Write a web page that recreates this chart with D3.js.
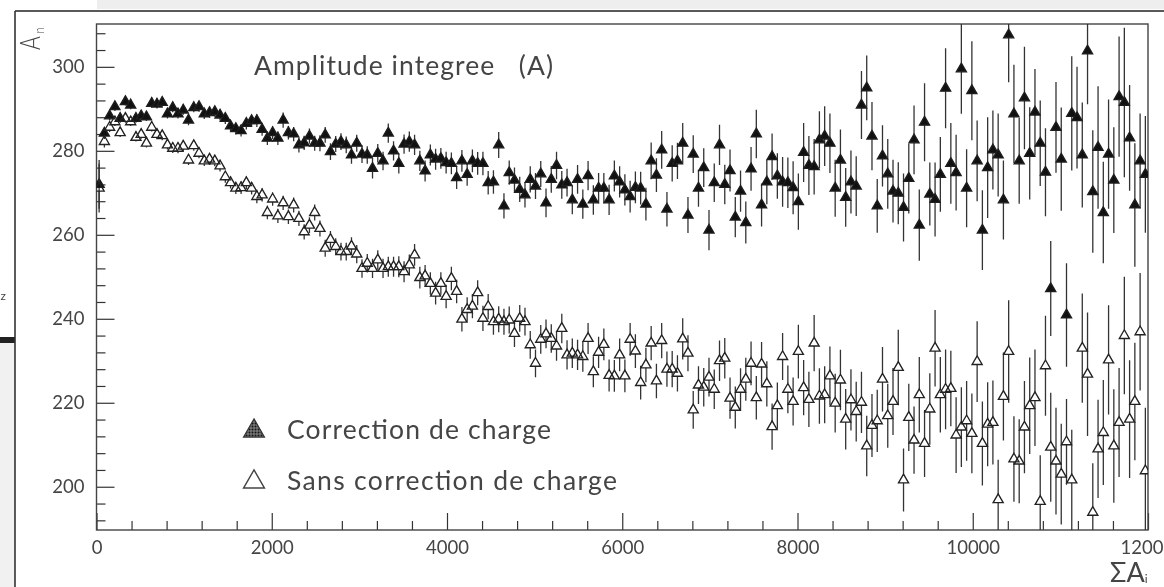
<!DOCTYPE html>
<html><head><meta charset="utf-8">
<script src="https://cdn.jsdelivr.net/npm/d3@7/dist/d3.min.js"></script>
<style>
html,body{margin:0;padding:0;background:#fff;overflow:hidden}
svg{display:block;filter:blur(0.45px)}
text{font-family:Lato,"Open Sans",sans-serif;fill:#454545;white-space:pre}
</style></head><body>
<script>
const binWidth = 60;
const xMajor = [0,2000,4000,6000,8000,10000,12000];
const xLabels = ["0","2000","4000","6000","8000","10000","1200"];
const xMinor = [400,800,1200,1600,2400,2800,3200,3600,4400,4800,5200,5600,6400,6800,7200,7600,8400,8800,9200,9600,10400,10800,11200,11600];
const yMajor = [200,220,240,260,280,300];
const yMinor = [192,196,204,208,212,216,224,228,232,236,244,248,252,256,264,268,272,276,284,288,292,296,304,308];
const chartTitle = "Amplitude integree   (A)";
const seriesNames = ["Correction de charge","Sans correction de charge"];

const withCharge = [
272.0,284.2,288.3,290.5,287.7,291.7,290.9,287.7,288.3,288.1,
291.3,291.1,291.5,288.8,290.3,288.8,289.7,287.3,290.3,290.5,
288.8,289.1,289.3,288.5,287.7,285.9,285.3,284.8,286.5,287.2,
287.2,285.1,283.0,284.3,283.0,287.3,284.3,284.0,281.4,281.9,
283.5,281.8,281.8,283.8,279.8,281.6,282.2,281.4,279.0,281.8,
279.2,279.0,275.8,279.4,277.6,284.2,280.0,277.0,281.6,282.2,
281.4,277.6,275.2,279.0,278.0,278.2,277.2,277.0,273.6,277.6,
274.4,277.6,277.0,277.0,272.4,272.6,281.4,266.9,274.8,273.0,
270.8,269.5,273.2,271.6,274.5,267.6,273.2,276.5,271.9,272.4,
268.3,273.2,267.3,274.1,268.3,271.1,271.1,268.3,274.0,272.6,
270.7,269.1,271.3,271.1,267.3,277.6,274.2,280.2,266.1,277.0,
277.6,281.8,264.7,279.2,271.1,276.0,261.1,272.4,281.4,272.0,
275.3,264.2,270.4,262.9,275.7,284.0,267.1,272.6,278.6,274.0,
272.6,272.4,271.2,267.9,279.6,276.5,276.2,282.6,283.5,281.8,
271.1,277.8,268.9,272.6,271.6,290.9,295.0,283.5,266.9,278.8,
274.5,270.4,269.9,266.5,273.4,282.6,262.3,286.8,269.7,268.4,
274.4,294.9,277.0,274.8,299.5,271.1,294.3,277.6,261.1,276.0,
280.2,279.0,268.3,307.6,288.8,277.6,292.6,279.4,289.2,281.8,
274.9,247.2,285.6,278.0,240.9,288.9,287.9,279.0,303.8,270.3,
280.8,265.3,279.2,273.0,292.9,291.5,283.1,267.1,277.6,274.4];

const withChargeErr = [
5.8,1.4,1.1,1.0,1.0,0.9,1.0,1.0,1.0,1.0,
1.0,1.0,1.0,1.1,1.1,1.1,1.1,1.2,1.1,1.2,
1.2,1.2,1.2,1.3,1.3,1.3,1.4,1.4,1.4,1.4,
1.5,1.5,1.6,1.5,1.6,1.8,1.6,1.7,1.8,1.7,
1.8,1.8,1.9,1.9,2.0,1.9,2.0,2.0,2.1,2.0,
2.1,2.1,2.4,2.2,2.2,2.3,2.3,2.4,2.3,2.4,
2.4,2.4,2.5,2.5,2.5,2.5,2.6,2.6,2.7,2.6,
2.7,2.7,2.7,2.8,2.8,2.8,3.1,3.0,2.9,3.0,
3.0,3.0,3.1,3.1,3.1,3.4,3.2,3.3,3.3,3.3,
3.4,3.4,3.5,3.5,3.5,3.6,3.6,3.6,3.7,3.7,
3.7,3.8,3.8,3.9,3.9,4.4,4.0,4.5,4.1,4.3,
4.3,4.8,4.3,4.5,4.4,4.6,4.8,4.6,4.8,4.7,
5.0,4.8,4.9,5.0,5.2,5.8,5.1,5.3,5.5,5.4,
5.9,6.0,6.3,6.7,7.0,7.0,6.6,6.8,7.1,7.1,
6.8,7.3,7.0,7.5,7.1,8.1,7.7,8.1,6.4,7.3,
8.3,7.5,7.4,8.1,8.3,8.2,8.5,9.3,7.5,8.8,
8.9,9.5,9.6,9.0,10.7,9.3,11.8,9.6,9.5,12.0,
9.4,9.9,9.4,11.3,11.7,10.2,12.2,11.0,10.3,10.2,
10.5,11.3,10.8,12.3,12.3,13.6,12.1,12.5,12.7,14.6,
14.6,12.1,13.0,12.6,14.3,17.8,12.6,14.7,11.3,13.9];

const withoutCharge = [
271.1,282.2,285.6,286.9,284.3,287.7,286.9,283.2,283.9,281.8,
285.6,283.9,283.6,281.4,280.6,280.6,281.1,277.8,281.2,279.4,
277.6,278.0,277.6,276.4,273.8,272.4,271.1,271.2,272.4,271.1,
269.1,269.5,265.3,268.5,264.5,267.6,264.3,267.1,263.9,260.7,
262.3,265.3,261.5,256.8,258.9,257.2,256.0,256.0,257.3,255.4,
252.0,253.2,252.0,254.0,252.0,252.4,252.4,252.4,251.2,252.8,
255.2,249.8,250.2,248.4,246.1,248.4,245.3,249.6,246.5,239.9,
242.2,243.0,246.2,240.1,242.9,239.3,239.9,239.3,239.7,236.5,
240.1,239.3,233.8,229.4,235.1,236.4,235.3,233.5,237.7,231.4,
231.8,231.4,231.0,235.3,227.4,232.0,233.9,226.5,226.4,231.4,
226.4,235.1,232.3,224.8,229.0,234.2,225.2,234.8,228.0,228.0,
227.0,235.2,231.8,218.3,224.2,223.7,226.1,223.2,230.0,230.6,
221.1,218.9,223.2,225.6,229.4,221.2,229.2,224.5,214.3,219.3,
231.0,223.2,220.3,232.2,223.6,220.8,234.2,221.6,221.9,226.4,
219.9,225.4,216.1,220.7,217.9,220.1,209.7,214.6,215.7,225.6,
216.9,220.3,228.4,201.6,216.5,211.1,221.9,210.3,218.5,233.0,
221.9,223.2,223.4,212.3,214.2,215.7,212.7,229.8,210.3,214.9,
215.3,196.9,221.5,232.2,206.6,206.1,214.2,219.3,221.2,196.5,
228.8,209.4,206.1,203.0,210.7,201.6,null,233.0,226.8,193.9,
209.0,212.9,230.2,209.7,215.3,236.0,216.1,220.3,236.9,203.8];

const withoutChargeErr = [
5.8,1.4,1.1,1.0,1.0,1.0,1.0,1.0,1.0,1.0,
1.0,1.1,1.1,1.1,1.1,1.2,1.2,1.2,1.2,1.2,
1.2,1.3,1.3,1.3,1.4,1.4,1.4,1.5,1.5,1.5,
1.6,1.6,1.6,1.6,1.7,1.7,1.7,1.8,1.8,1.8,
1.9,1.9,1.9,2.0,2.0,2.0,2.1,2.1,2.1,2.2,
2.2,2.2,2.3,2.3,2.3,2.4,2.4,2.5,2.5,2.5,
2.6,2.6,2.6,2.7,2.7,2.7,2.8,2.8,2.8,2.9,
2.9,2.9,3.0,3.0,3.0,3.1,3.1,3.1,3.2,3.2,
3.2,3.3,3.3,3.3,3.4,3.4,3.4,3.5,3.5,3.5,
3.5,3.6,3.6,3.7,3.7,3.7,3.8,3.8,3.8,3.9,
3.9,3.9,4.0,4.0,4.1,4.1,4.1,4.2,4.2,4.3,
4.3,4.9,4.3,4.5,4.5,4.6,4.6,4.7,4.8,4.8,
4.9,5.0,5.0,5.1,5.2,5.2,5.3,5.4,5.5,5.5,
5.6,5.7,5.7,6.4,6.6,6.6,6.7,6.6,6.8,7.0,
7.0,7.2,7.2,7.3,7.1,7.3,7.2,7.5,7.4,7.7,
7.6,8.0,9.0,7.5,8.0,8.0,9.0,8.0,8.5,9.1,
9.0,9.5,9.0,9.0,9.5,9.5,9.5,9.6,10.0,10.0,
10.0,9.5,10.5,12.2,10.2,10.0,11.0,11.5,11.5,11.0,
11.9,13.0,12.7,12.0,10.2,12.0,null,13.0,14.7,11.7,
11.7,12.5,13.0,13.5,13.0,14.0,14.0,14.0,14.0,15.0];

const W = 1164, H = 587;
const L = 96.5, R = 1148, T = 24, B = 530;
const ink = "#333";
const x = d3.scaleLinear().domain([0,12000]).range([L,R]);
const y = d3.scaleLinear().domain([189.7,310.2]).range([B,T]);

const svg = d3.select("body").append("svg").attr("width",W).attr("height",H);
const defs = svg.append("defs");
defs.append("clipPath").attr("id","plot").append("rect").attr("x",L).attr("y",T).attr("width",R-L).attr("height",B-T);
const pat = defs.append("pattern").attr("id","hatch").attr("width",3).attr("height",3).attr("patternUnits","userSpaceOnUse");
pat.append("rect").attr("width",3).attr("height",3).attr("fill","#777");
pat.append("circle").attr("cx",1.5).attr("cy",1.5).attr("r",1).attr("fill","#151515");

// page surroundings of the scanned figure
svg.append("rect").attr("x",97).attr("y",0).attr("width",W-97).attr("height",9).attr("fill","#eeeeee");
svg.append("rect").attr("x",0).attr("y",343).attr("width",15).attr("height",H-343).attr("fill","#f1f1f1");
svg.append("rect").attr("x",0).attr("y",337).attr("width",15).attr("height",6).attr("fill","#222");
svg.append("line").attr("x1",15).attr("x2",W).attr("y1",11).attr("y2",11).attr("stroke","#222").attr("stroke-width",1.6);
svg.append("line").attr("x1",15).attr("x2",15).attr("y1",11).attr("y2",H).attr("stroke","#333").attr("stroke-width",1.6);
svg.append("text").attr("x",0.5).attr("y",300).attr("font-size",12).text("z");

// axes
function axisStyle(g){
  g.select(".domain").remove();
  g.selectAll("line").attr("stroke",ink).attr("stroke-width",1.2);
  g.selectAll("text").attr("font-size",18.5).attr("fill","#454545").style("font-family","Lato,'Open Sans',sans-serif");
}
svg.append("g").attr("transform",`translate(${L},0)`)
  .call(d3.axisLeft(y).tickValues(yMinor).tickSizeInner(-9).tickSizeOuter(0).tickFormat(""))
  .call(axisStyle);
svg.append("g").attr("transform",`translate(${L},0)`)
  .call(d3.axisLeft(y).tickValues(yMajor).tickSizeInner(-18).tickSizeOuter(0).tickPadding(12).tickFormat(d3.format("d")))
  .call(axisStyle);
svg.append("g").attr("transform",`translate(0,${B})`)
  .call(d3.axisBottom(x).tickValues(xMinor).tickSizeInner(-9).tickSizeOuter(0).tickFormat(""))
  .call(axisStyle);
const xAxisG = svg.append("g").attr("transform",`translate(0,${B})`)
  .call(d3.axisBottom(x).tickValues(xMajor).tickSizeInner(-17).tickSizeOuter(0).tickPadding(11).tickFormat((d,i)=>xLabels[i]))
  .call(axisStyle);
// the last label sits flush with the right edge of the page, as in the reference
xAxisG.selectAll("text").filter((d,i)=>i===xMajor.length-1).attr("text-anchor","end").attr("x",15);
svg.append("rect").attr("x",L).attr("y",T).attr("width",R-L).attr("height",B-T)
  .attr("fill","none").attr("stroke","#444").attr("stroke-width",1.4);

// data marks
const triArea = 44, triUp = 5.8, triDown = 2.9;
const tri = d3.symbol().type(d3.symbolTriangle).size(triArea);
const plot = svg.append("g").attr("clip-path","url(#plot)");
function drawSeries(values, errs, fill, stroke){
  const pts = values.map((v,i)=>({c:binWidth*i+binWidth/2, v, e:errs[i]})).filter(d=>d.v!==null);
  const g = plot.append("g");
  g.selectAll("path.bar").data(pts).join("path").attr("class","bar")
    .attr("d",d=>{
      const px = x(d.c), py = y(d.v);
      return `M${px},${y(d.v+d.e)}L${px},${Math.min(py-triUp,y(d.v-d.e))}M${px},${Math.max(py+triDown,y(d.v+d.e))}L${px},${y(d.v-d.e)}`;
    })
    .attr("fill","none").attr("stroke","#333").attr("stroke-width",1.3);
  g.selectAll("path.mark").data(pts).join("path").attr("class","mark")
    .attr("transform",d=>`translate(${x(d.c)},${y(d.v)})`)
    .attr("d",tri).attr("fill",fill).attr("stroke",stroke).attr("stroke-width",1.35);
}
drawSeries(withCharge, withChargeErr, "#111", "#1e1e1e");
drawSeries(withoutCharge, withoutChargeErr, "none", "#222");

// texts
const tlabel = (s,x0,yb,len,fs)=>svg.append("text").attr("x",x0).attr("y",yb).attr("font-size",fs)
  .attr("textLength",len).attr("lengthAdjust","spacing").style("font-weight",400).text(s);
tlabel(chartTitle,254,75,299,26.5);
tlabel(seriesNames[0],287,439,264,26.5);
tlabel(seriesNames[1],287,490,330,26.5);
const legendTri = d3.symbol().type(d3.symbolTriangle).size(190);
svg.append("path").attr("d",legendTri).attr("transform","translate(254,431)").attr("fill","url(#hatch)").attr("stroke","#333").attr("stroke-width",1.2);
svg.append("path").attr("d",legendTri).attr("transform","translate(254,482)").attr("fill","none").attr("stroke","#444").attr("stroke-width",1.4);

// axis titles
const yt = svg.append("text").attr("transform","translate(39.5,50) rotate(-90) scale(.75,1)").attr("font-size",28).style("font-weight",300);
yt.append("tspan").text("A");
yt.append("tspan").attr("font-size",14).attr("dy",4.5).attr("dx",4).text("n");
const xt = svg.append("text").attr("x",1110).attr("y",581.5).attr("font-size",27).style("font-weight",400);
xt.append("tspan").text("\u03A3A");
xt.append("tspan").attr("font-size",12).attr("dy",1).text("i");
</script>
</body></html>
